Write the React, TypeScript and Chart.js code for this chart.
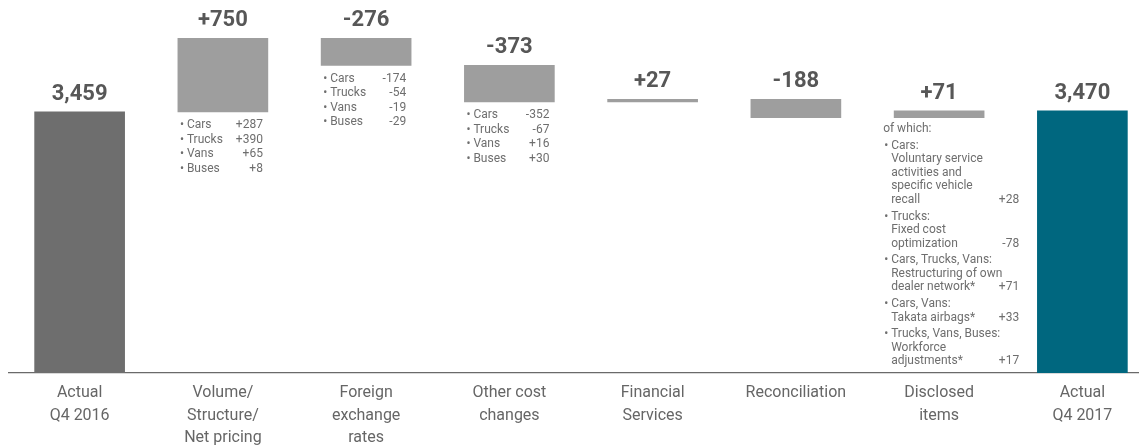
import React, { useEffect, useRef } from "react";
import { Chart, registerables } from "chart.js";

Chart.register(...registerables);

// ---- data ----
const categories: string[][] = [
  ["Actual", "Q4 2016"],
  ["Volume/", "Structure/", "Net pricing"],
  ["Foreign", "exchange", "rates"],
  ["Other cost", "changes"],
  ["Financial", "Services"],
  ["Reconciliation"],
  ["Disclosed", "items"],
  ["Actual", "Q4 2017"],
];
const actualQ42016 = 3459;
const changes = [750, -276, -373, 27, -188, 71];
const actualQ42017 = 3470;
const valueLabels = ["3,459", "+750", "-276", "-373", "+27", "-188", "+71", "3,470"];

const volumeDetail = [["Cars", "+287"], ["Trucks", "+390"], ["Vans", "+65"], ["Buses", "+8"]];
const fxDetail = [["Cars", "-174"], ["Trucks", "-54"], ["Vans", "-19"], ["Buses", "-29"]];
const otherCostDetail = [["Cars", "-352"], ["Trucks", "-67"], ["Vans", "+16"], ["Buses", "+30"]];

const disclosedHeader = "of which:";
const disclosedDetail = [
  { lines: ["Cars:", "Voluntary service", "activities and", "specific vehicle", "recall"], value: "+28" },
  { lines: ["Trucks:", "Fixed cost", "optimization"], value: "-78" },
  { lines: ["Cars, Trucks, Vans:", "Restructuring of own", "dealer network*"], value: "+71" },
  { lines: ["Cars, Vans:", "Takata airbags*"], value: "+33" },
  { lines: ["Trucks, Vans, Buses:", "Workforce", "adjustments*"], value: "+17" },
];

const barColors = ["#6e6e6e", "#9e9e9e", "#9e9e9e", "#9e9e9e", "#9e9e9e", "#9e9e9e", "#9e9e9e", "#00677f"];

const AXIS_MIN = 790;
const AXIS_MAX = 4520;

function buildData(): (number | [number, number])[] {
  const out: (number | [number, number])[] = [actualQ42016];
  let run = actualQ42016;
  for (const c of changes) {
    out.push([run, run + c]);
    run += c;
  }
  out.push(actualQ42017);
  return out;
}

const FONT = "Roboto, 'Noto Sans', sans-serif";

const annotationPlugin = {
  id: "waterfallAnnotations",
  afterDatasetsDraw(chart: any) {
    const ctx = chart.ctx as CanvasRenderingContext2D;
    const meta = chart.getDatasetMeta(0);
    ctx.save();
    meta.data.forEach((bar: any, i: number) => {
      const { x, y, base, width } = bar.getProps(["x", "y", "base", "width"], true);
      const top = Math.min(y, base);
      const bottom = Math.max(y, base);
      const left = x - width / 2;
      const right = x + width / 2;

      // value label
      ctx.font = `bold 22px ${FONT}`;
      ctx.fillStyle = "#575757";
      ctx.textAlign = "center";
      ctx.textBaseline = "alphabetic";
      ctx.fillText(valueLabels[i], x, top - 12);

      ctx.font = `12px ${FONT}`;
      ctx.fillStyle = "#6e6e6e";
      ctx.textBaseline = "middle";

      const details = i === 1 ? volumeDetail : i === 2 ? fxDetail : i === 3 ? otherCostDetail : null;
      if (details) {
        details.forEach((d, k) => {
          const ly = bottom + 13.5 + k * 14.5;
          ctx.textAlign = "left";
          ctx.fillText("•", left + 2, ly);
          ctx.fillText(d[0], left + 9, ly);
          ctx.textAlign = "right";
          ctx.fillText(d[1], right - 5, ly);
        });
      }
      if (i === 6) {
        ctx.textAlign = "left";
        ctx.fillText(disclosedHeader, left - 11, bottom + 11);
        let ly = bottom + 28;
        disclosedDetail.forEach((g) => {
          g.lines.forEach((line, k) => {
            ctx.textAlign = "left";
            if (k === 0) ctx.fillText("•", left - 10, ly);
            ctx.fillText(line, left - 3, ly);
            if (k === g.lines.length - 1) {
              ctx.textAlign = "right";
              ctx.fillText(g.value, left + 125, ly);
            }
            if (k < g.lines.length - 1) ly += 13.6;
          });
          ly += 16.5;
        });
      }
    });
    ctx.restore();
  },
};

export default function App() {
  const ref = useRef<HTMLCanvasElement | null>(null);

  useEffect(() => {
    document.documentElement.style.overflow = "hidden";
    const canvas = ref.current;
    if (!canvas) return;
    const chart = new Chart(canvas, {
      type: "bar",
      data: {
        labels: categories,
        datasets: [
          {
            data: buildData() as any,
            backgroundColor: barColors,
            borderWidth: 0,
            barThickness: 90,
          },
        ],
      },
      options: {
        responsive: false,
        animation: false,
        devicePixelRatio: 1,
        layout: { padding: 0 },
        plugins: {
          legend: { display: false },
          tooltip: { enabled: false },
        },
        scales: {
          y: {
            display: false,
            min: AXIS_MIN,
            max: AXIS_MAX,
          },
          x: {
            grid: { display: false, drawTicks: false },
            border: { display: true, color: "#6a6a6a", width: 1.2 },
            ticks: {
              autoSkip: false,
              maxRotation: 0,
              padding: 9,
              color: "#666666",
              font: { family: FONT, size: 16, lineHeight: 1.4 },
            },
            afterFit: (scale: any) => {
              scale.height = 75;
            },
          },
        },
      },
      plugins: [annotationPlugin],
    });
    return () => chart.destroy();
  }, []);

  return (
    <div style={{ position: "absolute", left: 8, top: 8, width: 1131, height: 440, overflow: "hidden" }}>
      <canvas ref={ref} width={1146} height={440} style={{ display: "block" }} />
    </div>
  );
}
